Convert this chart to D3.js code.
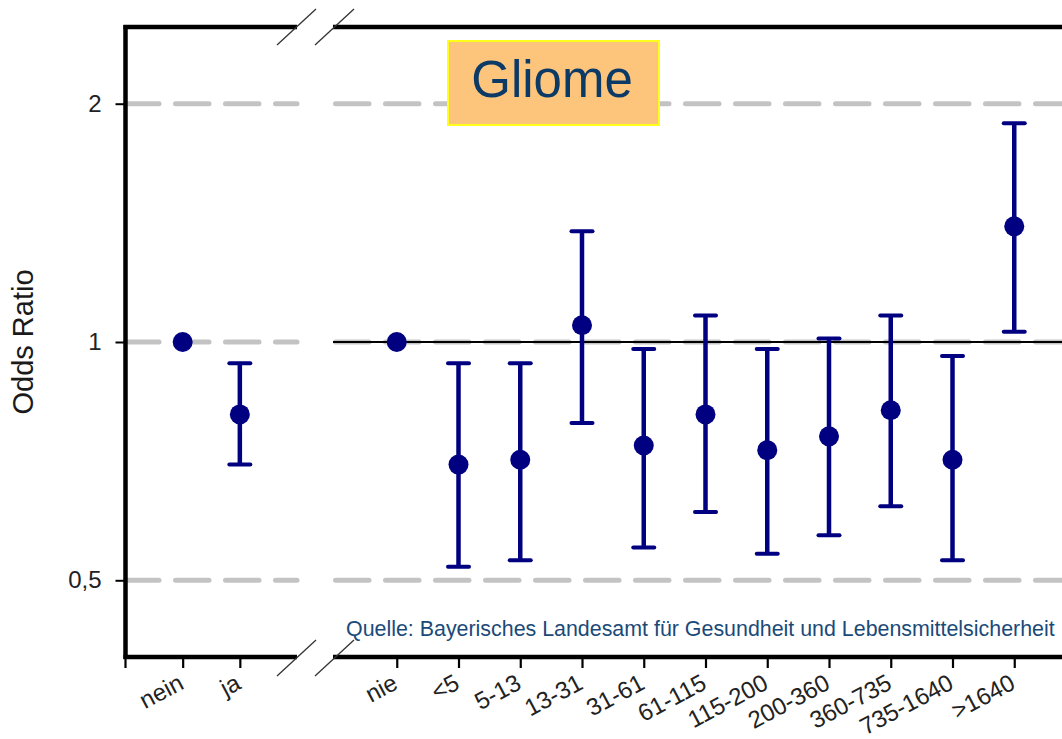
<!DOCTYPE html>
<html>
<head>
<meta charset="utf-8">
<script src="https://cdn.jsdelivr.net/npm/d3@7"></script>
<style>
  html, body { margin: 0; padding: 0; background: #fff; }
  svg { display: block; font-family: "Liberation Sans", Arial, sans-serif; }
</style>
</head>
<body>
<svg id="chart" width="1062" height="739"></svg>
<script>
// Raucherstatus (nein / ja)
const leftCats = ["nein", "ja"];
const leftOR   = [1, 0.81];
const leftLo   = [null, 0.70];
const leftHi   = [null, 0.94];

// Kumulierte Exposition (Klassen)
const rightCats = ["nie", "<5", "5-13", "13-31", "31-61", "61-115", "115-200", "200-360", "360-735", "735-1640", ">1640"];
const rightOR   = [1, 0.70, 0.71, 1.05, 0.74, 0.81, 0.73, 0.76, 0.82, 0.71, 1.40];
const rightLo   = [null, 0.52, 0.53, 0.79, 0.55, 0.61, 0.54, 0.57, 0.62, 0.53, 1.03];
const rightHi   = [null, 0.94, 0.94, 1.38, 0.98, 1.08, 0.98, 1.01, 1.08, 0.96, 1.89];

const yTickValues = [0.5, 1, 2];
const yTickLabels = ["0,5", "1", "2"];

const titleText  = "Gliome";
const sourceText = "Quelle: Bayerisches Landesamt für Gesundheit und Lebensmittelsicherheit";
const yTitle     = "Odds Ratio";

const svg = d3.select("#chart");

// plot geometry
const plotTop = 27, plotBottom = 657, plotLeft = 125.5;
const breakL = 297, breakR = 335, rightEnd = 1076;

const y = d3.scaleLog().domain([0.4, 2.5]).range([plotBottom, plotTop]);
const xL = d3.scalePoint().domain(leftCats).range([plotLeft, breakL]).padding(1);
const xR = d3.scalePoint().domain(rightCats).range([breakR, rightEnd]).padding(1);

const navy = "#000080";

// dashed reference lines
const grid = svg.append("g");
yTickValues.forEach(v => {
  [[plotLeft, breakL], [breakR + 0.5, rightEnd]].forEach(([a, b]) => {
    grid.append("line")
      .attr("x1", a).attr("x2", b)
      .attr("y1", y(v)).attr("y2", y(v))
      .attr("stroke", "#c3c3c3")
      .attr("stroke-width", 5)
      .attr("stroke-linecap", "round")
      .attr("stroke-dasharray", "33.5 16.5");
  });
});

// solid reference line at OR = 1 for the exposure group
svg.append("line")
  .attr("x1", breakR - 2).attr("x2", rightEnd)
  .attr("y1", y(1)).attr("y2", y(1))
  .attr("stroke", "#000").attr("stroke-width", 2);

// frame: left axis, top and bottom lines with breaks
const frame = svg.append("g").attr("stroke", "#000").attr("stroke-width", 4.5).attr("fill", "none");
frame.append("line").attr("x1", plotLeft).attr("x2", plotLeft).attr("y1", plotTop - 2).attr("y2", plotBottom + 2);
[plotTop, plotBottom].forEach(yy => {
  frame.append("line").attr("x1", plotLeft - 2).attr("x2", breakL).attr("y1", yy).attr("y2", yy);
  frame.append("line").attr("x1", breakR - 2).attr("x2", rightEnd).attr("y1", yy).attr("y2", yy);
});

// break marks
const brk = svg.append("g").attr("stroke", "#333").attr("stroke-width", 1.3);
[plotTop, plotBottom + 1].forEach(yy => {
  [breakL - 0.5, breakR - 0.5].forEach(xx => {
    brk.append("line")
      .attr("x1", xx - 19.5).attr("y1", yy + 18)
      .attr("x2", xx + 19.5).attr("y2", yy - 18);
  });
});

// y axis
const yAxis = d3.axisLeft(y)
  .tickValues(yTickValues)
  .tickFormat((d, i) => yTickLabels[i])
  .tickSize(10)
  .tickPadding(14);
const gy = svg.append("g").attr("transform", `translate(${plotLeft},0)`).call(yAxis);
gy.select(".domain").remove();
gy.selectAll(".tick line").attr("stroke", "#000").attr("stroke-width", 2);
gy.selectAll(".tick text")
  .attr("font-size", 24)
  .attr("fill", "#222")
  .attr("font-family", "Liberation Sans, Arial, sans-serif");

// y title
svg.append("text")
  .attr("transform", `translate(33,${y(1)}) rotate(-90)`)
  .attr("text-anchor", "middle")
  .attr("font-size", 29)
  .attr("fill", "#1a1a1a")
  .text(yTitle);

// x axes
function xAxisGroup(scale) {
  const g = svg.append("g").attr("transform", `translate(0,${plotBottom})`)
    .call(d3.axisBottom(scale).tickSize(11).tickFormat(""));
  g.select(".domain").remove();
  g.selectAll(".tick line").attr("stroke", "#000").attr("stroke-width", 2.2);
  g.selectAll(".tick").append("text")
    .attr("transform", "translate(2,31) rotate(-28)")
    .attr("text-anchor", "end")
    .attr("font-size", 24)
    .attr("fill", "#222")
    .attr("font-family", "Liberation Sans, Arial, sans-serif")
    .text(d => d);
  return g;
}
xAxisGroup(xL);
xAxisGroup(xR);
// corner tick under the y axis
svg.append("line")
  .attr("x1", plotLeft).attr("x2", plotLeft)
  .attr("y1", plotBottom).attr("y2", plotBottom + 11)
  .attr("stroke", "#000").attr("stroke-width", 2.2);

// error bars and points
function drawGroup(scale, cats, or, lo, hi) {
  const data = cats.map((c, i) => ({ c, or: or[i], lo: lo[i], hi: hi[i] }));
  const g = svg.append("g");
  const ci = data.filter(d => d.lo != null);
  g.selectAll(".ci").data(ci).join("line")
    .attr("x1", d => scale(d.c)).attr("x2", d => scale(d.c))
    .attr("y1", d => y(d.hi)).attr("y2", d => y(d.lo))
    .attr("stroke", navy).attr("stroke-width", 4.5);
  ["lo", "hi"].forEach(k => {
    g.selectAll(".cap-" + k).data(ci).join("line")
      .attr("x1", d => scale(d.c) - 10.5).attr("x2", d => scale(d.c) + 10.5)
      .attr("y1", d => y(d[k])).attr("y2", d => y(d[k]))
      .attr("stroke", navy).attr("stroke-width", 4)
      .attr("stroke-linecap", "round");
  });
  g.selectAll(".pt").data(data).join("circle")
    .attr("cx", d => scale(d.c)).attr("cy", d => y(d.or))
    .attr("r", 10).attr("fill", navy);
}
drawGroup(xL, leftCats, leftOR, leftLo, leftHi);
drawGroup(xR, rightCats, rightOR, rightLo, rightHi);

// title box
const tb = svg.append("g");
tb.append("rect")
  .attr("x", 448).attr("y", 41).attr("width", 211).attr("height", 84)
  .attr("fill", "#fdc47c").attr("stroke", "#ffff1a").attr("stroke-width", 2);
tb.append("text")
  .attr("x", 552).attr("y", 97)
  .attr("text-anchor", "middle")
  .attr("font-size", 51)
  .attr("fill", "#0b3a66")
  .text(titleText);

// source note
svg.append("text")
  .attr("x", 346).attr("y", 636)
  .attr("font-size", 21.4)
  .attr("fill", "#1b4a78")
  .text(sourceText);
</script>
</body>
</html>
